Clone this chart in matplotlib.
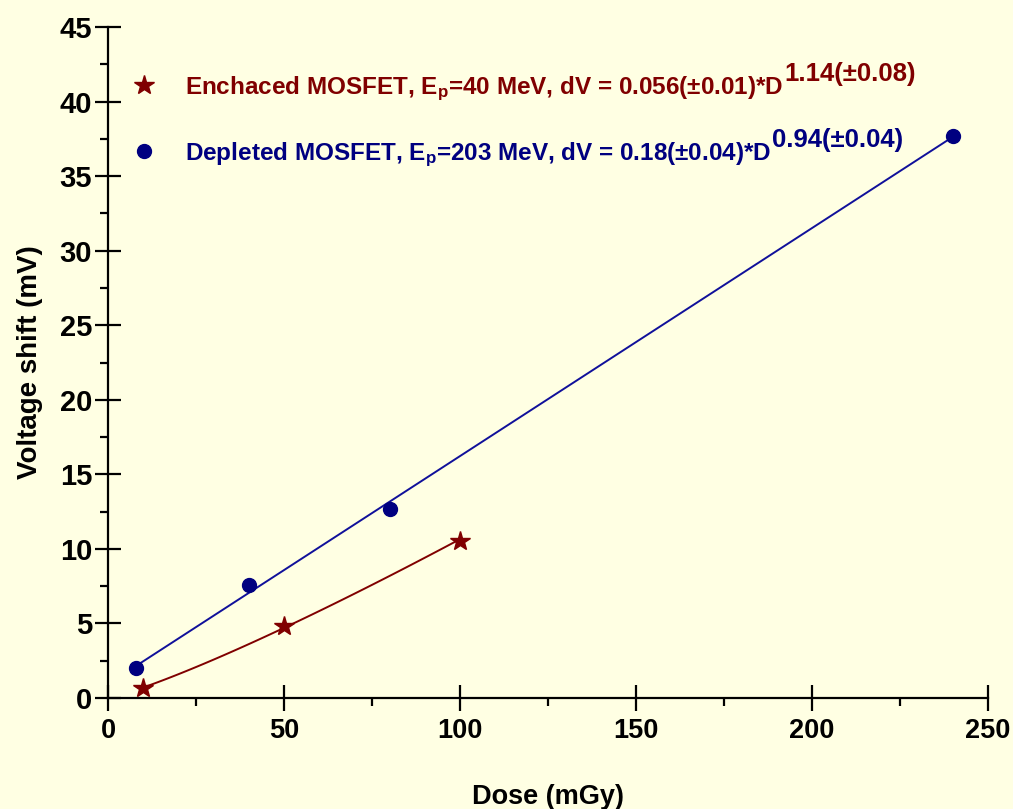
import numpy as np
import matplotlib.pyplot as plt
from matplotlib.lines import Line2D
from matplotlib.ticker import MultipleLocator

# Data
dose_enh = [10, 50, 100]
shift_enh = [0.7, 4.8, 10.5]
dose_dep = [8, 40, 80, 240]
shift_dep = [2.0, 7.6, 12.7, 37.7]

label_enh = r'Enchaced MOSFET, E$_\mathbf{p}$=40 MeV, dV = 0.056(±0.01)*D'
label_dep = r'Depleted MOSFET, E$_\mathbf{p}$=203 MeV, dV = 0.18(±0.04)*D'
sup_enh = '1.14(±0.08)'
sup_dep = '0.94(±0.04)'

plt.rcParams['font.family'] = ['Liberation Sans', 'DejaVu Sans']
plt.rcParams['font.weight'] = 'bold'
plt.rcParams['mathtext.fontset'] = 'custom'
plt.rcParams['mathtext.rm'] = 'Liberation Sans:bold'
plt.rcParams['mathtext.bf'] = 'Liberation Sans:bold'
plt.rcParams['mathtext.it'] = 'Liberation Sans:bold'

bg = '#FFFFE3'
red = '#800000'
blue = '#000080'

fig = plt.figure(figsize=(10.13, 8.09), dpi=100, facecolor=bg)
ax = fig.add_axes([0.1066, 0.1372, 0.8687, 0.8294], facecolor=bg)

# fitted curves: power law for the enhanced device, linear for the depleted one
b, ln_a = np.polyfit(np.log(dose_enh), np.log(shift_enh), 1)
xs = np.linspace(min(dose_enh), max(dose_enh), 100)
ax.plot(xs, np.exp(ln_a) * xs ** b, color=red, lw=1.4)
k, c = np.polyfit(dose_dep, shift_dep, 1)
xs = np.linspace(min(dose_dep), max(dose_dep), 100)
ax.plot(xs, k * xs + c, color='#10109A', lw=1.4)

ax.plot(dose_enh, shift_enh, ls='none', marker='*', ms=15, color=red)
ax.plot(dose_dep, shift_dep, ls='none', marker='o', ms=10, color=blue)

ax.set_xlim(0, 250)
ax.set_ylim(0, 45)
ax.xaxis.set_major_locator(MultipleLocator(50))
ax.xaxis.set_minor_locator(MultipleLocator(25))
ax.yaxis.set_major_locator(MultipleLocator(5))
ax.yaxis.set_minor_locator(MultipleLocator(2.5))
for s in ['top', 'right']:
    ax.spines[s].set_visible(False)
for s in ['left', 'bottom']:
    ax.spines[s].set_linewidth(1.6)
ax.tick_params(which='major', direction='inout', length=19, width=1.6)
ax.tick_params(which='minor', direction='out', length=6, width=1.6)
ax.tick_params(axis='x', labelsize=19.5, pad=5)
ax.tick_params(axis='y', labelsize=21, pad=2)

ax.set_xlabel('Dose (mGy)', fontsize=19.5, fontweight='bold', labelpad=29)
ax.set_ylabel('Voltage shift (mV)', fontsize=20, fontweight='bold', labelpad=12)

handles = [Line2D([], [], ls='none', marker='*', ms=15, color=red),
           Line2D([], [], ls='none', marker='o', ms=10, color=blue)]
leg = ax.legend(handles, [label_enh, label_dep], loc='upper left',
                bbox_to_anchor=(-0.011, 0.962), frameon=False, fontsize=17.5,
                labelcolor='markerfacecolor', handletextpad=0.65, labelspacing=1.55)

for txt, sup, col in zip(leg.get_texts(), [sup_enh, sup_dep], [red, blue]):
    ax.annotate(sup, xy=(1, 0.6), xycoords=txt, xytext=(1, 0), textcoords='offset points',
                fontsize=18.5, fontweight='bold', color=col, ha='left', va='bottom',
                zorder=10)

fig.savefig('out.png', dpi=100, facecolor=bg)
